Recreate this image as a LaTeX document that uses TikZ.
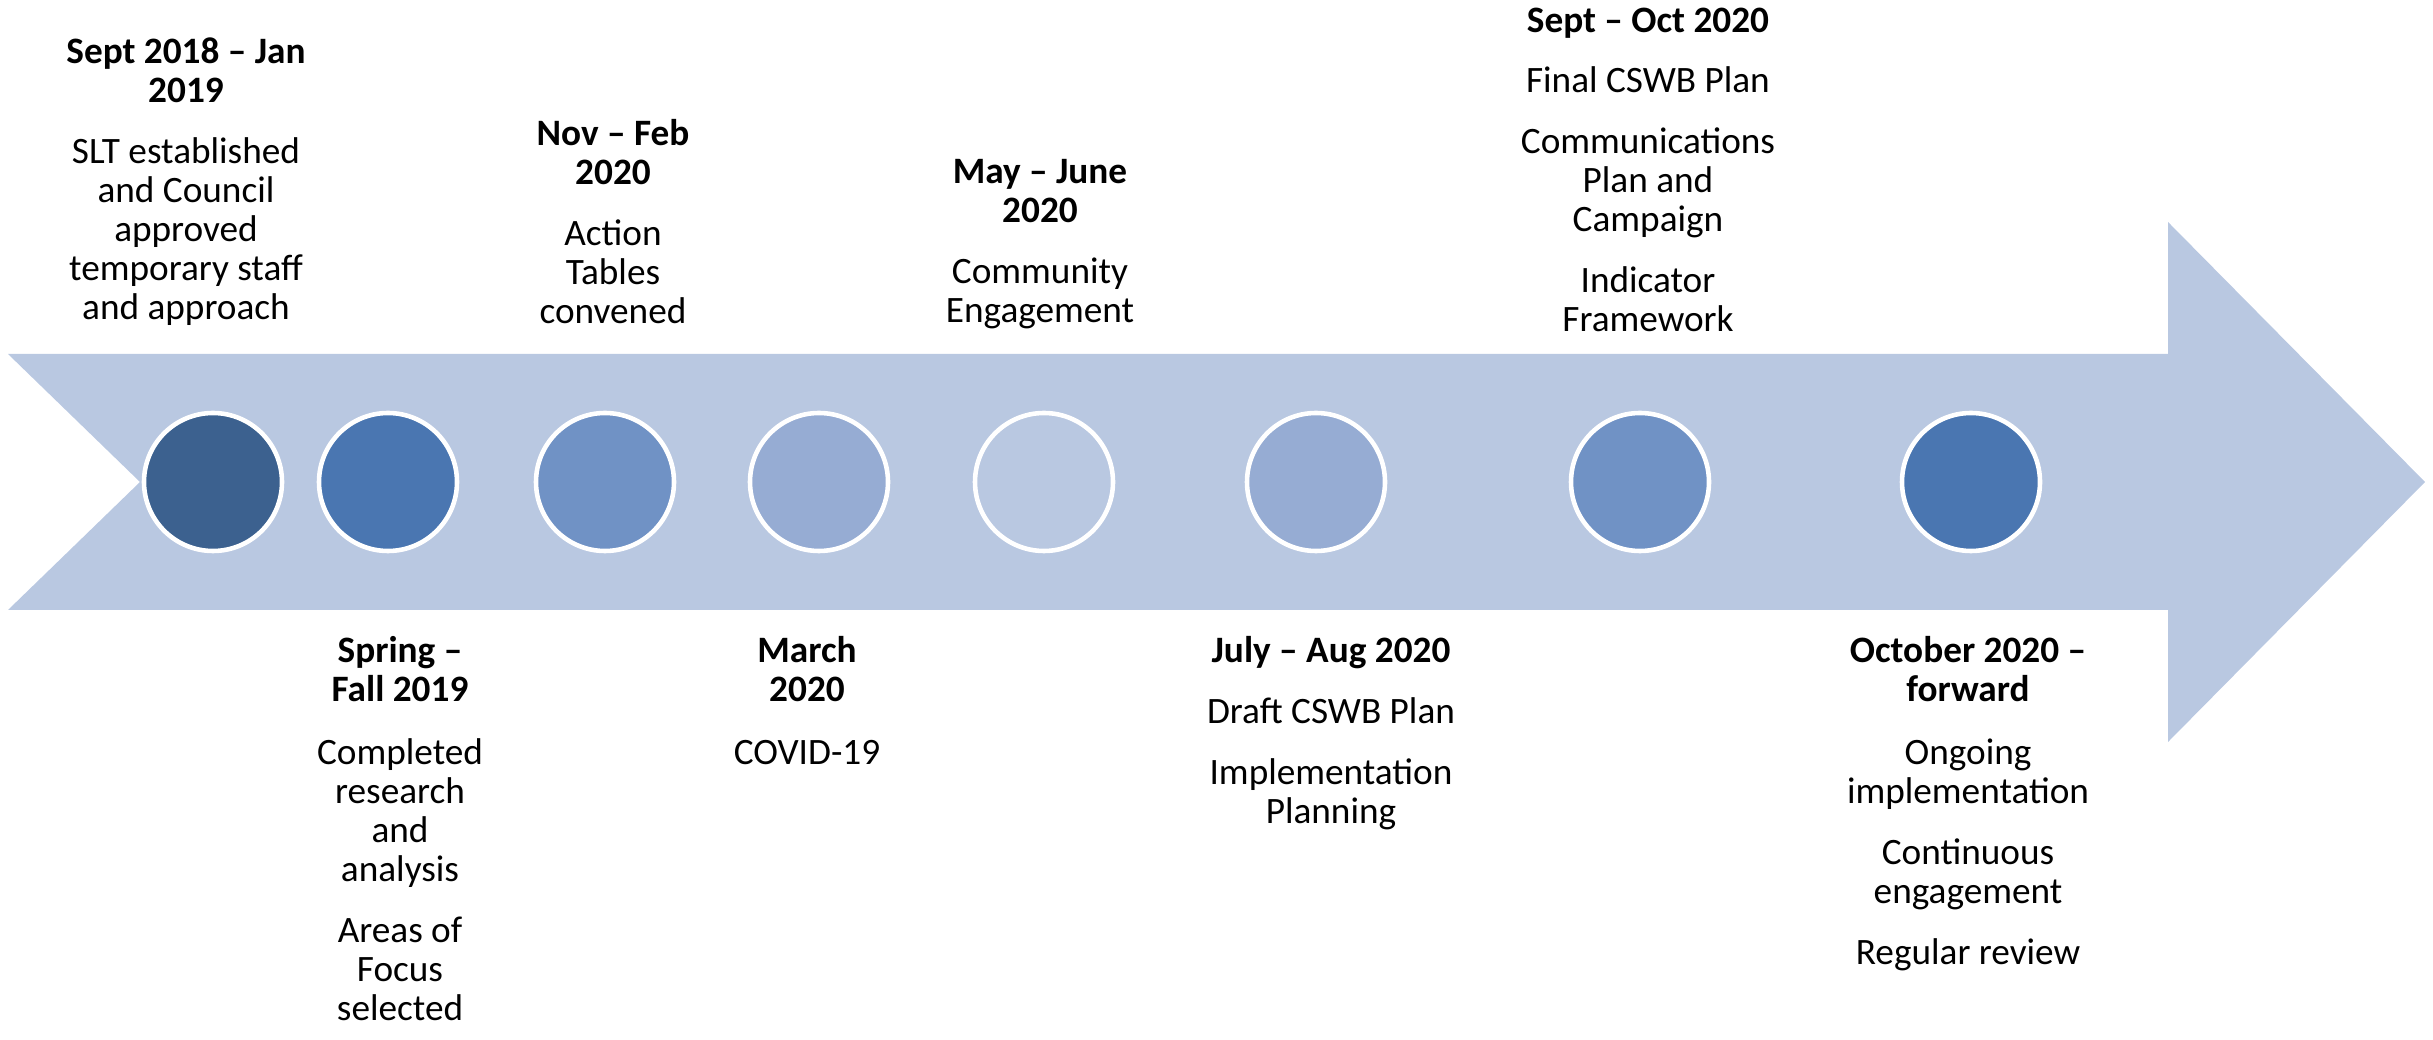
\documentclass[tikz,border=0pt]{standalone}
\usepackage{fontspec}
\setmainfont{Carlito}

\definecolor{band}{HTML}{B9C8E1}
\definecolor{tone1}{HTML}{3C618F}
\definecolor{tone2}{HTML}{4A76B1}
\definecolor{tone3}{HTML}{7092C5}
\definecolor{tone4}{HTML}{96ACD3}

\tikzset{
  dot/.style={circle,draw=white,line width=1.3pt,minimum size=1.38cm,inner sep=0pt},
  when/.style={align=center,inner sep=0pt,font=\fontsize{10.6}{11.1}\selectfont},
}

\begin{document}
\begin{tikzpicture}
  \useasboundingbox (0,0) rectangle (24.33,10.39);
  % band with notched tail and arrow head
  \fill[band] (0.08,6.85) -- (21.68,6.85) -- (21.68,8.17) -- (24.25,5.57)
    -- (21.68,2.97) -- (21.68,4.29) -- (0.08,4.29) -- (1.40,5.57) -- cycle;
  % milestones
  \node[dot,fill=tone1] (d1) at (2.13,5.57) {};
  \node[dot,fill=tone2] (d2) at (3.88,5.57) {};
  \node[dot,fill=tone3] (d3) at (6.05,5.57) {};
  \node[dot,fill=tone4] (d4) at (8.19,5.57) {};
  \node[dot,fill=band]  (d5) at (10.44,5.57) {};
  \node[dot,fill=tone4] (d6) at (13.16,5.57) {};
  \node[dot,fill=tone3] (d7) at (16.40,5.57) {};
  \node[dot,fill=tone2] (d8) at (19.71,5.57) {};
  % labels above the band
  \node[when,anchor=north] (t1) at (1.86,10.02) {\textbf{Sept 2018 – Jan}\\\textbf{2019}\\[6.2pt]
    SLT established\\and Council\\approved\\temporary staff\\and approach};
  \node[when,anchor=north] (t3) at (6.13,9.20) {\textbf{Nov – Feb}\\\textbf{2020}\\[6.2pt]
    Action\\Tables\\convened};
  \node[when,anchor=north] (t5) at (10.40,8.80) {\textbf{May – June}\\\textbf{2020}\\[6.2pt]
    Community\\Engagement};
  \node[when,anchor=north] (t7) at (16.48,10.32) {\textbf{Sept – Oct 2020}\\[6.2pt]
    Final CSWB Plan\\[6.2pt]Communications\\Plan and\\Campaign\\[6.2pt]Indicator\\Framework};
  % labels below the band
  \node[when,anchor=north] (t2) at (4.00,4.03) {\textbf{Spring –}\\\textbf{Fall 2019}\\[6.8pt]
    Completed\\research\\and\\analysis\\[6.2pt]Areas of\\Focus\\selected};
  \node[when,anchor=north] (t4) at (8.07,4.03) {\textbf{March}\\\textbf{2020}\\[6.8pt]COVID-19};
  \node[when,anchor=north] (t6) at (13.31,4.03) {\textbf{July – Aug 2020}\\[6.2pt]
    Draft CSWB Plan\\[6.2pt]Implementation\\Planning};
  \node[when,anchor=north] (t8) at (19.68,4.03) {\textbf{October 2020 –}\\\textbf{forward}\\[6.8pt]
    Ongoing\\implementation\\[6.2pt]Continuous\\engagement\\[6.2pt]Regular review};
\end{tikzpicture}
\end{document}
